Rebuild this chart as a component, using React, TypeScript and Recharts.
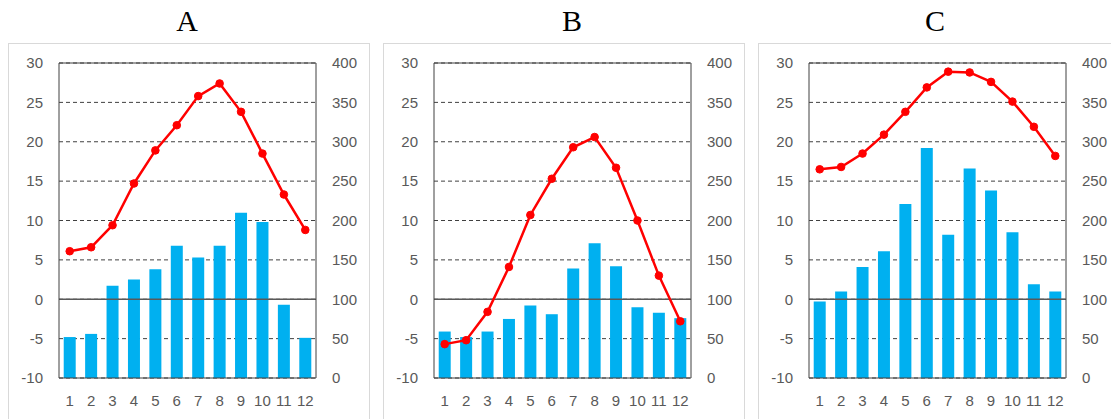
import React from 'react';
import {
  ComposedChart,
  Bar,
  Line,
  XAxis,
  YAxis,
  CartesianGrid,
  ReferenceLine,
} from 'recharts';

// shared categories and axis ticks
const months = ['1', '2', '3', '4', '5', '6', '7', '8', '9', '10', '11', '12'];
const tempTicks = [-10, -5, 0, 5, 10, 15, 20, 25, 30];
const precipTicks = [0, 50, 100, 150, 200, 250, 300, 350, 400];
const titles = ['A', 'B', 'C'];

// monthly mean temperature (°C), left axis
const tempA = [6.1, 6.6, 9.4, 14.7, 18.9, 22.1, 25.8, 27.4, 23.8, 18.5, 13.3, 8.8];
const tempB = [-5.7, -5.2, -1.6, 4.1, 10.7, 15.3, 19.3, 20.6, 16.7, 10.0, 3.0, -2.8];
const tempC = [16.5, 16.8, 18.5, 20.9, 23.8, 26.9, 28.9, 28.8, 27.6, 25.1, 21.9, 18.2];

// monthly precipitation (mm), right axis
const precipA = [52, 56, 117, 125, 138, 168, 153, 168, 210, 198, 93, 51];
const precipB = [59, 52, 59, 75, 92, 81, 139, 171, 142, 90, 83, 76];
const precipC = [97, 110, 141, 161, 221, 292, 182, 266, 238, 185, 119, 110];

const temps = [tempA, tempB, tempC];
const precips = [precipA, precipB, precipC];

const titleCenters = [187, 572, 935];
const tickStyle = { fontSize: 15, fill: '#595959', fontFamily: 'Liberation Sans, Arial, sans-serif' };
const frame = '#404040';

function Panel({ temp, precip }: { temp: number[]; precip: number[] }) {
  const rows = months.map((m, i) => ({ month: m, temp: temp[i], precip: precip[i] }));
  return (
    <ComposedChart
      width={360}
      height={370}
      data={rows}
      margin={{ top: 19, right: 0, bottom: 6, left: 0 }}
      barCategoryGap="22%"
    >
      <CartesianGrid yAxisId="t" vertical={false} stroke={frame} strokeDasharray="4 3" />
      <XAxis
        dataKey="month"
        height={30}
        tickLine={false}
        tickSize={0}
        tickMargin={17}
        axisLine={{ stroke: frame }}
        tick={tickStyle}
        interval={0}
      />
      <YAxis
        yAxisId="t"
        orientation="left"
        width={50}
        domain={[-10, 30]}
        ticks={tempTicks}
        tickLine={false}
        tickSize={0}
        tickMargin={16}
        axisLine={{ stroke: frame }}
        tick={tickStyle}
        interval={0}
      />
      <YAxis
        yAxisId="p"
        orientation="right"
        width={53}
        domain={[0, 400]}
        ticks={precipTicks}
        tickLine={false}
        tickSize={0}
        tickMargin={16}
        axisLine={{ stroke: frame }}
        tick={{ ...tickStyle, textAnchor: 'start' }}
        interval={0}
      />
      <Bar yAxisId="p" dataKey="precip" fill="#00b0f0" isAnimationActive={false} />
      <ReferenceLine yAxisId="t" y={0} stroke="#595959" strokeWidth={1.5} />
      <ReferenceLine yAxisId="t" y={30} stroke={frame} />
      <Line
        yAxisId="t"
        dataKey="temp"
        stroke="#ff0000"
        strokeWidth={2.5}
        dot={{ r: 3.8, fill: '#ff0000', stroke: '#ff0000', strokeWidth: 1 }}
        isAnimationActive={false}
      />
    </ComposedChart>
  );
}

export default function App() {
  return (
    <div
      style={{
        position: 'absolute',
        top: 0,
        left: 0,
        width: 1111,
        height: 419,
        overflow: 'hidden',
        background: '#fff',
      }}
    >
      {titles.map((t, i) => (
        <div
          key={t}
          style={{
            position: 'absolute',
            left: titleCenters[i] - 50,
            top: 3,
            width: 100,
            textAlign: 'center',
            fontFamily: 'Liberation Serif, serif',
            fontSize: 30,
            lineHeight: '36px',
            color: '#000',
          }}
        >
          {t}
        </div>
      ))}
      {titles.map((t, i) => (
        <div
          key={'box' + t}
          style={{
            position: 'absolute',
            left: 8 + 375 * i,
            top: 43,
            width: 362,
            height: 420,
            boxSizing: 'border-box',
            border: '1px solid #d9d9d9',
          }}
        >
          <Panel temp={temps[i]} precip={precips[i]} />
        </div>
      ))}
    </div>
  );
}
